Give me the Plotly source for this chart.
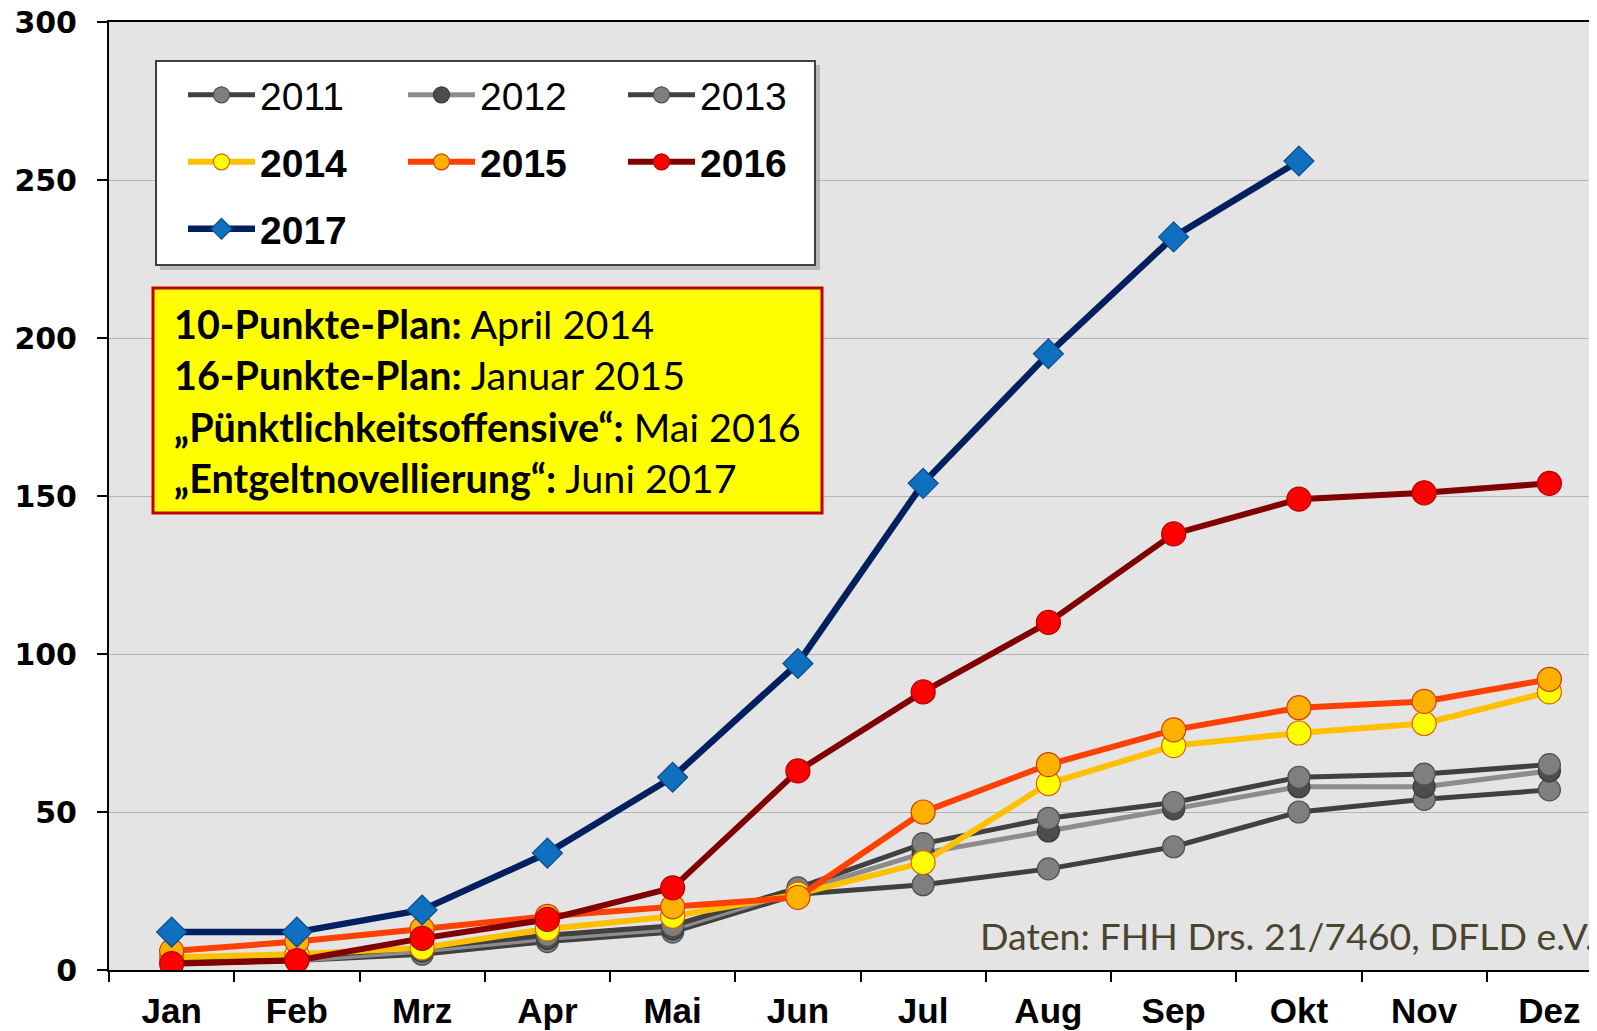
import plotly.graph_objects as go

months = ["Jan", "Feb", "Mrz", "Apr", "Mai", "Jun", "Jul", "Aug", "Sep", "Okt", "Nov", "Dez"]
y2011 = [2, 3, 5, 9, 12, 24, 27, 32, 39, 50, 54, 57]
y2012 = [2, 3, 6, 10, 13, 25, 37, 44, 51, 58, 58, 63]
y2013 = [3, 4, 7, 11, 14, 26, 40, 48, 53, 61, 62, 65]
y2014 = [4, 5, 7, 13, 17, 24, 34, 59, 71, 75, 78, 88]
y2015 = [6, 9, 13, 17, 20, 23, 50, 65, 76, 83, 85, 92]
y2016 = [2, 3, 10, 16, 26, 63, 88, 110, 138, 149, 151, 154]
y2017 = [12, 12, 19, 37, 61, 97, 154, 195, 232, 256]
y_ticks = [0, 50, 100, 150, 200, 250, 300]

# page body has an 8px margin, so the figure is laid out in window pixels minus 8
OFF = 8
WIN_W, WIN_H = 1597, 1031
W, H = WIN_W - OFF, WIN_H - OFF
PLOT_L, PLOT_T, PLOT_B = 109, 22, 970        # window pixels
L, T = PLOT_L - OFF, PLOT_T - OFF
B = H - (PLOT_B - OFF)
R = 0
PW, PH = W - L - R, H - T - B


def px2x(px):
    return (px - OFF - L) / PW


def px2y(py):
    return (H - B - (py - OFF)) / PH


fig = go.Figure()

series = [
    ("2011", y2011, "#404040", "#7F7F7F", "#505050", 5, "circle", 22, "legend"),
    ("2012", y2012, "#8C8C8C", "#4D4D4D", "#3A3A3A", 5, "circle", 22, "legend"),
    ("2013", y2013, "#404040", "#7F7F7F", "#505050", 5, "circle", 22, "legend"),
    ("<b>2014</b>", y2014, "#FFC000", "#FFFF00", "#E06000", 6, "circle", 24, "legend2"),
    ("<b>2015</b>", y2015, "#FF4000", "#FFB000", "#D04000", 6, "circle", 24, "legend2"),
    ("<b>2016</b>", y2016, "#800000", "#FF0000", "#B00000", 6, "circle", 24, "legend2"),
    ("<b>2017</b>", y2017, "#002060", "#1070C0", "#0A4C8C", 6.5, "diamond", 23, "legend3"),
]

for name, ys, lc, mc, mlc, lw, sym, ms, lg in series:
    fig.add_trace(go.Scatter(
        x=months[:len(ys)], y=ys, name=name, mode="lines+markers",
        line=dict(color=lc, width=lw),
        marker=dict(symbol=sym, size=ms, color=mc, line=dict(color=mlc, width=1.2)),
        legend=lg,
    ))

# legend frame (shadow + box)
fig.add_shape(type="rect", xref="paper", yref="paper",
              x0=px2x(160), x1=px2x(820), y0=px2y(270), y1=px2y(65),
              fillcolor="#9A9A9A", line=dict(width=0), layer="above", opacity=0.6)
fig.add_shape(type="rect", xref="paper", yref="paper",
              x0=px2x(156), x1=px2x(815), y0=px2y(265), y1=px2y(61),
              fillcolor="white", line=dict(color="#404040", width=2), layer="above")

# yellow info box
fig.add_shape(type="rect", xref="paper", yref="paper",
              x0=px2x(153), x1=px2x(822), y0=px2y(513), y1=px2y(288),
              fillcolor="#FFFF00", line=dict(color="#C00000", width=3), layer="above")

legend_common = dict(
    orientation="h", xanchor="left", yanchor="middle",
    bgcolor="rgba(0,0,0,0)", borderwidth=0,
    font=dict(family="Liberation Sans, Arial, sans-serif", size=39, color="black"),
    entrywidth=138, entrywidthmode="pixels", itemwidth=67, traceorder="normal",
)

fig.update_layout(
    width=W, height=H,
    margin=dict(l=L, r=R, t=T, b=B, pad=0, autoexpand=False),
    paper_bgcolor="white",
    plot_bgcolor="#E4E4E4",
    showlegend=True,
    legend=dict(x=px2x(183), y=px2y(95), **legend_common),
    legend2=dict(x=px2x(183), y=px2y(162), **legend_common),
    legend3=dict(x=px2x(183), y=px2y(229), **legend_common),
    xaxis=dict(
        type="category", range=[-0.5, 11.38], automargin=False,
        showline=True, linecolor="black", linewidth=2, mirror=True,
        ticks="outside", tickson="boundaries", ticklen=10, tickcolor="black", tickwidth=1.5,
        showgrid=False, ticklabeloverflow="allow",
        tickfont=dict(family="Liberation Sans, Arial, sans-serif", size=35, color="black", weight="bold"),
        ticklabelstandoff=9,
    ),
    yaxis=dict(
        range=[0, 300], tickvals=y_ticks, automargin=False,
        showline=True, linecolor="black", linewidth=2,
        ticks="outside", ticklen=10, tickcolor="black", tickwidth=1.5,
        showgrid=True, gridcolor="#B4B4B4", gridwidth=1, zeroline=False,
        ticklabeloverflow="allow",
        tickfont=dict(family="DejaVu Sans, sans-serif", size=30, color="black", weight="bold"),
        ticklabelstandoff=14,
    ),
)

fig.add_annotation(
    xref="paper", yref="paper", x=px2x(172), y=px2y(400), xanchor="left", yanchor="middle",
    align="left", showarrow=False,
    text=("<b>10-Punkte-Plan:</b> April 2014<br>"
          "<b>16-Punkte-Plan:</b> Januar 2015<br>"
          "<b>„Pünktlichkeitsoffensive“:</b> Mai 2016<br>"
          "<b>„Entgeltnovellierung“:</b> Juni 2017"),
    font=dict(family="Lato, Open Sans, sans-serif", size=39.5, color="black"),
)

fig.add_annotation(
    xref="paper", yref="paper", x=px2x(1596), y=px2y(935), xanchor="right", yanchor="middle",
    showarrow=False, text="Daten: FHH Drs. 21/7460, DFLD e.V.",
    font=dict(family="Lato, Open Sans, sans-serif", size=37.5, color="#4A4430"),
)

fig.write_html("out.html")
